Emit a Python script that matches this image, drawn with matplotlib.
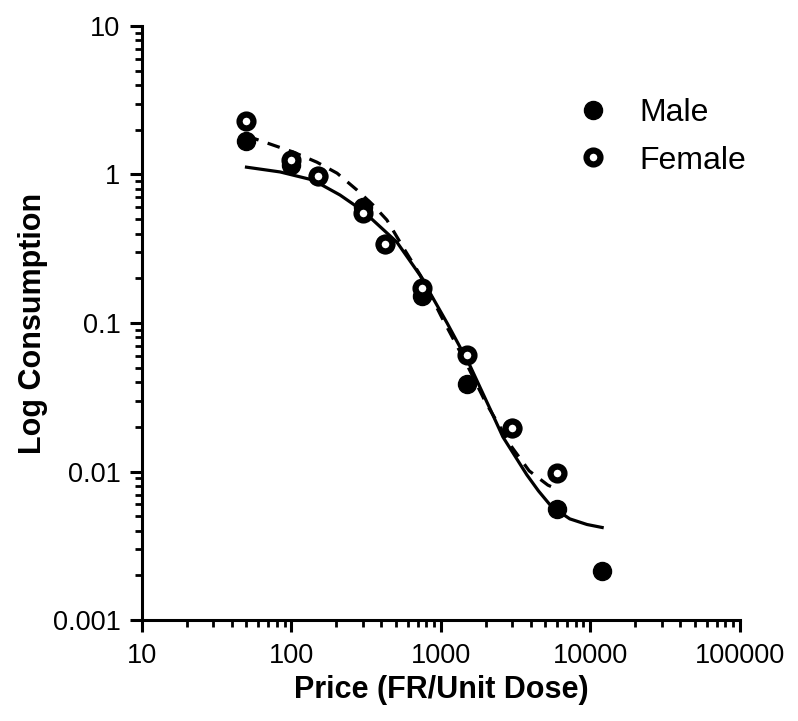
import matplotlib
matplotlib.use("Agg")
import matplotlib.pyplot as plt
from matplotlib.lines import Line2D
from matplotlib.ticker import LogLocator, NullFormatter, FixedLocator, FixedFormatter

plt.rcParams["font.family"] = ["Liberation Sans", "DejaVu Sans"]

# observed data
price = [50, 100, 150, 300, 420, 750, 1500, 3000, 6000, 12000]
male = [1.68, 1.15, 0.97, 0.60, 0.34, 0.152, 0.039, 0.0196, 0.0056, 0.00214]
price_f = [50, 100, 150, 300, 420, 750, 1500, 3000, 6000]
female = [2.3, 1.25, 0.97, 0.55, 0.34, 0.172, 0.061, 0.0196, 0.0098]

# fitted demand curves
fit_m_x = [50, 84, 139, 211, 300, 508, 724, 1100, 1560, 2130, 2600, 3760,
           4500, 5350, 6300, 7290, 9500, 12000]
fit_m_y = [1.12, 1.04, 0.918, 0.728, 0.570, 0.350, 0.210, 0.100, 0.0520, 0.0265,
           0.0171, 0.0095, 0.0074, 0.0060, 0.0053, 0.0048, 0.0044, 0.0042]
fit_f_x = [50, 75, 102, 148, 202, 274, 351, 435, 557, 750, 1000, 1500, 2000,
           3000, 3900, 5200, 6000]
fit_f_y = [1.82, 1.58, 1.42, 1.21, 1.02, 0.787, 0.624, 0.494, 0.325, 0.200, 0.112,
           0.052, 0.029, 0.0145, 0.0101, 0.0081, 0.0076]

xticks = [10, 100, 1000, 10000, 100000]
xticklabels = ["10", "100", "1000", "10000", "100000"]
yticks = [0.001, 0.01, 0.1, 1, 10]
yticklabels = ["0.001", "0.01", "0.1", "1", "10"]

fig = plt.figure(figsize=(7.98, 7.21), dpi=100)
ax = fig.add_axes([0.178, 0.140, 0.749, 0.824])

ax.plot(fit_m_x, fit_m_y, color="black", lw=2.3, zorder=2)
ax.plot(fit_f_x, fit_f_y, color="black", lw=2.3, dashes=(4, 3), zorder=2)

ax.plot(price, male, "o", color="black", ms=13, mew=1, zorder=3, clip_on=False)
ax.plot(price_f, female, "o", mfc="white", mec="black", ms=10, mew=4.5, zorder=4, clip_on=False)

ax.set_xscale("log")
ax.set_yscale("log")
ax.set_xlim(10, 100000)
ax.set_ylim(0.001, 10)

ax.xaxis.set_major_locator(FixedLocator(xticks))
ax.xaxis.set_major_formatter(FixedFormatter(xticklabels))
ax.yaxis.set_major_locator(FixedLocator(yticks))
ax.yaxis.set_major_formatter(FixedFormatter(yticklabels))
ax.xaxis.set_minor_locator(LogLocator(base=10, subs=range(2, 10)))
ax.yaxis.set_minor_locator(LogLocator(base=10, subs=range(2, 10)))
ax.xaxis.set_minor_formatter(NullFormatter())
ax.yaxis.set_minor_formatter(NullFormatter())

for s in ["top", "right"]:
    ax.spines[s].set_visible(False)
for s in ["left", "bottom"]:
    ax.spines[s].set_linewidth(2.2)

ax.tick_params(which="major", direction="out", length=8.5, width=2.2, labelsize=19.5)
ax.tick_params(axis="x", which="major", pad=8)
ax.tick_params(axis="y", which="major", pad=7)
ax.tick_params(which="minor", direction="out", length=5, width=2.0)

ax.set_xlabel("Price (FR/Unit Dose)", fontsize=22, fontweight="bold", labelpad=4)
ax.set_ylabel("Log Consumption", fontsize=22, fontweight="bold", labelpad=3)

handles = [
    Line2D([], [], ls="none", marker="o", color="black", ms=13, mew=1),
    Line2D([], [], ls="none", marker="o", mfc="white", mec="black", ms=10, mew=4.5),
]
fig.legend(handles, ["Male", "Female"], loc="upper left",
           bbox_to_anchor=(577 / 798, 1 - 98 / 721), frameon=False,
           fontsize=23, handlelength=1.0, handletextpad=0.95,
           labelspacing=0.55, borderpad=0, borderaxespad=0)

fig.savefig("out.png", dpi=100)
